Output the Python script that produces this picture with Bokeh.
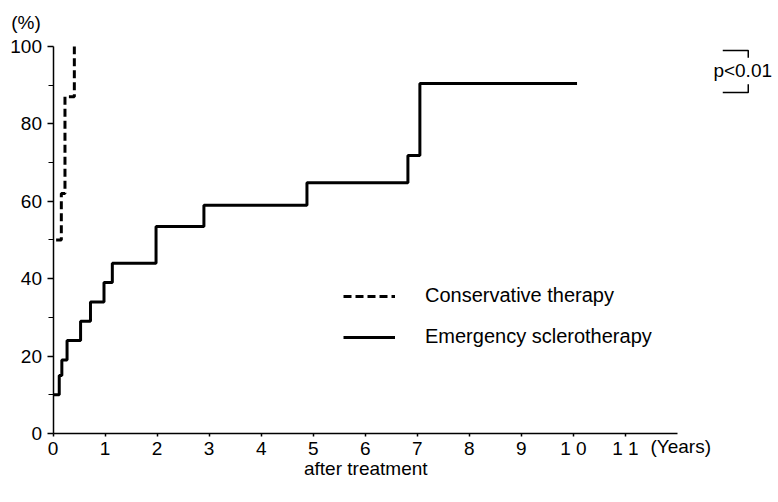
from bokeh.plotting import figure
from bokeh.models import FixedTicker, Label, Legend, LegendItem, Range1d
from bokeh.embed import file_html
from bokeh.resources import INLINE

# ---- data ----
es_years = [0, 0.12, 0.17, 0.27, 0.53, 0.72, 0.98, 1.14, 1.98, 2.90, 4.88, 6.82, 7.05, 10.07]
es_pct = [10, 15, 19, 24, 29, 34, 39, 44, 53.5, 59, 64.8, 71.8, 90.4, 90.4]
ct_years = [0.06, 0.16, 0.23, 0.41]
ct_pct = [50, 62, 87, 100]

x_ticks = list(range(0, 12))
x_tick_labels = ["0", "1", "2", "3", "4", "5", "6", "7", "8", "9", "1 0", "1 1"]
y_ticks = [0, 20, 40, 60, 80, 100]
y_minor_ticks = [10, 30, 50, 70, 90]

FONT = "Liberation Sans"

W, H = 778, 502
X0_PX, Y0_PX = 52.5, 433.0      # pixel position of the origin
px_per_year = 52.04
px_per_pct = 3.8707

p = figure(width=W, height=H, output_backend="svg", toolbar_location=None,
           x_range=Range1d(-X0_PX / px_per_year, (W - X0_PX) / px_per_year),
           y_range=Range1d(-(H - Y0_PX) / px_per_pct, Y0_PX / px_per_pct),
           min_border=0)
p.outline_line_color = None
p.xgrid.visible = False
p.ygrid.visible = False
p.background_fill_color = "white"
p.border_fill_color = "white"

# axes (anchored at the data origin)
xa = p.xaxis[0]
xa.fixed_location = 0
xa.bounds = (0, 12)
xa.ticker = FixedTicker(ticks=x_ticks)
xa.major_label_overrides = {t: lab for t, lab in zip(x_ticks, x_tick_labels)}
xa.major_tick_in = 0
xa.major_tick_out = 3
xa.minor_tick_line_color = None
xa.axis_line_width = 1.5
xa.major_tick_line_width = 1.5
xa.axis_line_color = "black"
xa.major_tick_line_color = "black"
xa.major_label_text_font = FONT
xa.major_label_text_font_size = "19px"
xa.major_label_text_color = "black"
xa.major_label_standoff = 1

ya = p.yaxis[0]
ya.fixed_location = 0
ya.bounds = (0, 100)
ya.ticker = FixedTicker(ticks=y_ticks, minor_ticks=y_minor_ticks)
ya.major_tick_in = 0
ya.major_tick_out = 6
ya.minor_tick_in = 0
ya.minor_tick_out = 5
ya.axis_line_width = 1.5
ya.major_tick_line_width = 1.5
ya.minor_tick_line_width = 1.2
ya.axis_line_color = "black"
ya.major_tick_line_color = "black"
ya.minor_tick_line_color = "black"
ya.major_label_text_font = FONT
ya.major_label_text_font_size = "19px"
ya.major_label_text_color = "black"
ya.major_label_standoff = 5

# curves
r_ct = p.step(ct_years, ct_pct, mode="after", line_color="black", line_width=3,
              line_dash="8 4")
r_es = p.step(es_years, es_pct, mode="after", line_color="black", line_width=3)

legend = Legend(items=[LegendItem(label="Conservative therapy", renderers=[r_ct]),
                       LegendItem(label="Emergency sclerotherapy", renderers=[r_es])],
                location=(343, 154), orientation="vertical",
                border_line_color=None, background_fill_alpha=0,
                padding=0, margin=0, spacing=18,
                glyph_width=52, glyph_height=22, label_height=22,
                label_standoff=30, label_text_font=FONT,
                label_text_font_size="20px", label_text_color="black")
p.add_layout(legend)

# p-value bracket
p.multi_line(xs=[[12.87, 13.36, 13.36], [12.87, 13.36, 13.36]],
             ys=[[98.95, 98.95, 97.1], [88.1, 88.1, 90.2]],
             line_color="black", line_width=1.5)
p.add_layout(Label(x=12.69, y=93.8, text="p<0.01", text_font=FONT,
                   text_font_size="19px", text_baseline="middle",
                   text_align="left", text_color="black"))

# texts
p.add_layout(Label(x=-0.52, y=106.2, text="(%)", text_font=FONT,
                   text_font_size="19px", text_baseline="middle",
                   text_align="center", text_color="black"))
p.add_layout(Label(x=11.48, y=-3.4, text="(Years)", text_font=FONT,
                   text_font_size="19px", text_baseline="middle",
                   text_align="left", text_color="black"))
p.add_layout(Label(x=6.01, y=-9.0, text="after treatment", text_font=FONT,
                   text_font_size="19px", text_baseline="middle",
                   text_align="center", text_color="black"))

open("out.html", "w").write(file_html(p, INLINE))
